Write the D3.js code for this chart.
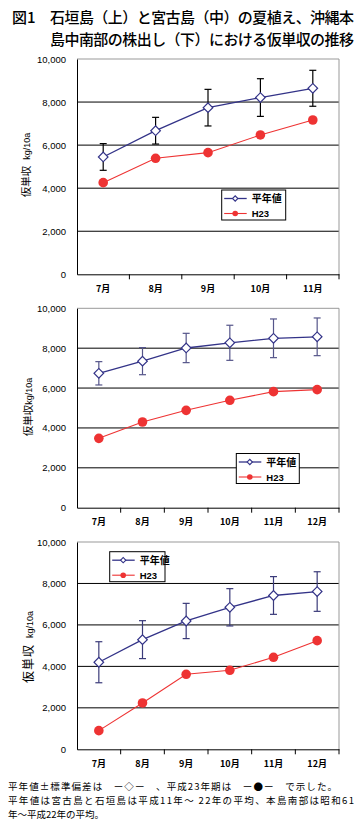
<!DOCTYPE html>
<html>
<head>
<meta charset="utf-8">
<script src="https://cdn.jsdelivr.net/npm/d3@7"></script>
<style>
  body { margin: 0; background: #fff; }
  svg { display: block; }
  .jp { font-family: "Noto Sans CJK JP", sans-serif; }
  .num { font-family: "Liberation Sans", Arial, sans-serif; }
</style>
</head>
<body>
<div id="chart"></div>
<script>
// data (kg/10a)
const months5 = ["7月", "8月", "9月", "10月", "11月"];
const months6 = ["7月", "8月", "9月", "10月", "11月", "12月"];
const yTicks = [0, 2000, 4000, 6000, 8000, 10000];

// 石垣島 夏植え
const ishigakiMean = [5450, 6670, 7740, 8210, 8640];
const ishigakiSd = [620, 620, 850, 875, 835];
const ishigakiH23 = [4257, 5387, 5650, 6471, 7167];

// 宮古島 夏植え
const miyakoMean = [6740, 7350, 8010, 8270, 8495, 8570];
const miyakoSd = [585, 680, 735, 880, 970, 945];
const miyakoH23 = [3478, 4298, 4883, 5385, 5819, 5920];

// 沖縄本島中南部 株出し
const okinawaMean = [4200, 5290, 6190, 6850, 7420, 7610];
const okinawaSd = [990, 915, 850, 900, 910, 955];
const okinawaH23 = [900, 2235, 3617, 3810, 4437, 5241];

const W = 364, H = 832;
const navy = "#333388", red = "#ee3333";

const svg = d3.select("#chart").append("svg")
  .attr("width", W)
  .attr("height", H);

// title
svg.append("text").attr("class", "jp").attr("x", 12).attr("y", 23)
  .attr("font-size", 15).attr("font-weight", 500).text("図1");
svg.append("text").attr("class", "jp").attr("x", 50).attr("y", 23)
  .attr("font-size", 15).attr("font-weight", 500)
  .attr("textLength", 304).attr("lengthAdjust", "spacing")
  .text("石垣島（上）と宮古島（中）の夏植え、沖縄本");
svg.append("text").attr("class", "jp").attr("x", 50).attr("y", 45)
  .attr("font-size", 15).attr("font-weight", 500)
  .attr("textLength", 304).attr("lengthAdjust", "spacing")
  .text("島中南部の株出し（下）における仮単収の推移");

const drawChart = (cfg) => {
  const left = 77, right = 339;
  const g = svg.append("g");

  const x = d3.scaleBand().domain(cfg.months).range([left, right]);
  const y = d3.scaleLinear().domain([0, 10000]).range([cfg.bottom, cfg.top]);

  // grid
  g.selectAll(".grid")
    .data(yTicks.filter(d => d > 0 && d < 10000))
    .enter().append("line")
    .attr("x1", left).attr("x2", right)
    .attr("y1", d => y(d)).attr("y2", d => y(d))
    .attr("stroke", "#000").attr("stroke-width", 1);

  // frame: top and right in grey
  g.append("line").attr("x1", left).attr("x2", right)
    .attr("y1", y(10000)).attr("y2", y(10000))
    .attr("stroke", "#999").attr("stroke-width", 1);
  g.append("line").attr("x1", right).attr("x2", right)
    .attr("y1", y(10000)).attr("y2", y(0))
    .attr("stroke", "#999").attr("stroke-width", 1);

  // y axis
  const yAxis = d3.axisLeft(y).tickValues(yTicks)
    .tickFormat(d3.format(",")).tickSize(0).tickPadding(11);
  const ya = g.append("g").attr("transform", "translate(" + left + ",0)").call(yAxis);
  ya.select(".domain").attr("stroke", "#000");
  ya.selectAll("text").attr("class", "num").attr("font-size", 9.5).attr("fill", "#000");

  // x axis
  const xAxis = d3.axisBottom(x).tickSize(0).tickPadding(11);
  const xa = g.append("g").attr("transform", "translate(0," + cfg.bottom + ")").call(xAxis);
  xa.select(".domain").attr("stroke", "#000");
  xa.selectAll("text").attr("class", "jp").attr("font-size", 9)
    .attr("font-weight", "bold").attr("fill", "#000");
  g.selectAll(".xtick")
    .data(cfg.months.slice(1).map(m => x(m)).concat([right]))
    .enter().append("line")
    .attr("x1", d => d).attr("x2", d => d)
    .attr("y1", cfg.bottom).attr("y2", cfg.bottom + 5)
    .attr("stroke", "#000");

  // y title
  const yt = g.append("text").attr("class", "jp")
    .attr("transform", "translate(" + cfg.titleX + "," + cfg.titleY + ") rotate(-90)")
    .attr("text-anchor", "middle").attr("fill", "#000");
  yt.append("tspan").attr("font-size", cfg.titleSize).attr("letter-spacing", cfg.titleSpacing)
    .text("仮単収");
  yt.append("tspan").attr("class", "num").attr("font-size", 9)
    .attr("dx", cfg.titleGap).text("kg/10a");

  const cx = (i) => x(cfg.months[i]) + x.bandwidth() / 2;

  // error bars
  const eb = g.selectAll(".eb").data(cfg.mean).enter().append("g");
  eb.append("line")
    .attr("x1", (d, i) => cx(i)).attr("x2", (d, i) => cx(i))
    .attr("y1", (d, i) => y(d + cfg.sd[i])).attr("y2", (d, i) => y(d - cfg.sd[i]))
    .attr("stroke", cfg.errColor).attr("stroke-width", 1.2);
  eb.append("line")
    .attr("x1", (d, i) => cx(i) - 3.5).attr("x2", (d, i) => cx(i) + 3.5)
    .attr("y1", (d, i) => y(d + cfg.sd[i])).attr("y2", (d, i) => y(d + cfg.sd[i]))
    .attr("stroke", cfg.errColor).attr("stroke-width", 1.2);
  eb.append("line")
    .attr("x1", (d, i) => cx(i) - 3.5).attr("x2", (d, i) => cx(i) + 3.5)
    .attr("y1", (d, i) => y(d - cfg.sd[i])).attr("y2", (d, i) => y(d - cfg.sd[i]))
    .attr("stroke", cfg.errColor).attr("stroke-width", 1.2);

  // lines
  const line = d3.line().x((d, i) => cx(i)).y(d => y(d));
  g.append("path").datum(cfg.mean).attr("d", line)
    .attr("fill", "none").attr("stroke", navy).attr("stroke-width", 1.3);
  g.append("path").datum(cfg.h23).attr("d", line)
    .attr("fill", "none").attr("stroke", red).attr("stroke-width", 1.1);

  // markers
  const diamond = d3.symbol().type(d3.symbolSquare).size(46);
  g.selectAll(".dm").data(cfg.mean).enter().append("path")
    .attr("d", diamond)
    .attr("transform", (d, i) => "translate(" + cx(i) + "," + y(d) + ") rotate(45)")
    .attr("fill", "#fff").attr("stroke", navy).attr("stroke-width", 1.2);
  g.selectAll(".dot").data(cfg.h23).enter().append("circle")
    .attr("cx", (d, i) => cx(i)).attr("cy", d => y(d)).attr("r", 4.8)
    .attr("fill", red);

  // legend
  const lg = g.append("g").attr("transform", "translate(" + cfg.legX + "," + cfg.legY + ")");
  lg.append("rect").attr("width", cfg.legW).attr("height", 30)
    .attr("fill", "#fff").attr("stroke", "#000").attr("stroke-width", 1);
  lg.append("line").attr("x1", 2.5).attr("x2", 25).attr("y1", 8.5).attr("y2", 8.5)
    .attr("stroke", navy).attr("stroke-width", 1.3);
  lg.append("path").attr("d", d3.symbol().type(d3.symbolSquare).size(14))
    .attr("transform", "translate(13.5,8.5) rotate(45)")
    .attr("fill", "#fff").attr("stroke", navy).attr("stroke-width", 1.1);
  lg.append("text").attr("class", "jp").attr("x", 30).attr("y", 12.3)
    .attr("font-size", 10).attr("font-weight", "bold").text("平年値");
  lg.append("line").attr("x1", 2.5).attr("x2", 25).attr("y1", 23.5).attr("y2", 23.5)
    .attr("stroke", red).attr("stroke-width", 1.1);
  lg.append("circle").attr("cx", 13.5).attr("cy", 23.5).attr("r", 2.8).attr("fill", red);
  lg.append("text").attr("class", "num").attr("x", 30).attr("y", 27)
    .attr("font-size", 9.5).attr("font-weight", "bold").text("H23");
};

drawChart({
  months: months5, mean: ishigakiMean, sd: ishigakiSd, h23: ishigakiH23,
  top: 59, bottom: 274.3, errColor: "#000",
  legX: 221.7, legY: 190, legW: 64,
  titleX: 30, titleY: 165, titleSize: 10.5, titleSpacing: 0, titleGap: 6
});
drawChart({
  months: months6, mean: miyakoMean, sd: miyakoSd, h23: miyakoH23,
  top: 308.3, bottom: 507.7, errColor: "#55558a",
  legX: 236.3, legY: 453.5, legW: 63,
  titleX: 32, titleY: 407, titleSize: 10.5, titleSpacing: 0, titleGap: 0
});
drawChart({
  months: months6, mean: okinawaMean, sd: okinawaSd, h23: okinawaH23,
  top: 542, bottom: 749.3, errColor: "#3b3b7a",
  legX: 109.7, legY: 551.7, legW: 55.3,
  titleX: 33, titleY: 647, titleSize: 12, titleSpacing: 1, titleGap: 6
});

// footnote
svg.append("text").attr("class", "jp").attr("x", 8).attr("y", 790)
  .attr("font-size", 9.5).attr("textLength", 329).attr("lengthAdjust", "spacing")
  .text("平年値±標準偏差は　ー◇ー　、平成23年期は　ー●ー　で示した。");
svg.append("text").attr("class", "jp").attr("x", 8).attr("y", 804)
  .attr("font-size", 9.5).attr("textLength", 346).attr("lengthAdjust", "spacing")
  .text("平年値は宮古島と石垣島は平成11年～ 22年の平均、本島南部は昭和61");
svg.append("text").attr("class", "jp").attr("x", 8).attr("y", 818)
  .attr("font-size", 9.5)
  .text("年～平成22年の平均。");
</script>
</body>
</html>
